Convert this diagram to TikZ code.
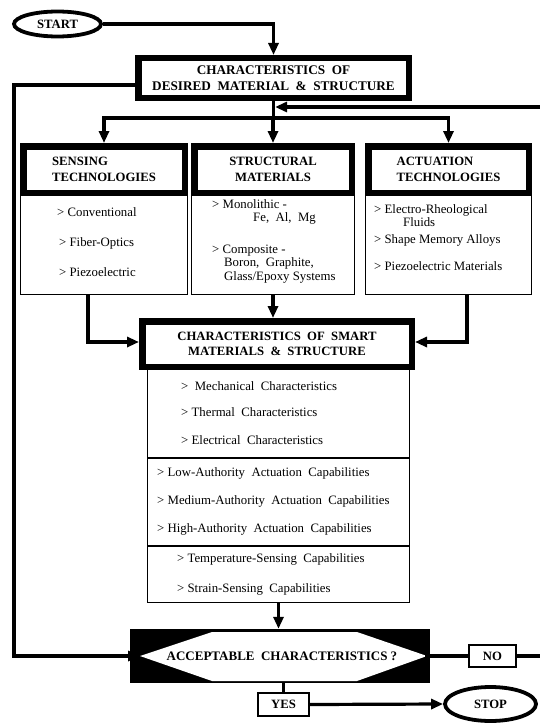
\documentclass[tikz,border=0pt]{standalone}
\usepackage{fontspec}
\setmainfont{Liberation Serif}
\usetikzlibrary{arrows.meta,shapes.geometric,calc}
\begin{document}
\begin{tikzpicture}[x=1pt,y=-1pt,
 hdr/.style={draw, line width=6.5pt, inner sep=0pt, font=\fontsize{12.7}{15.5}\selectfont\bfseries},
 bodybox/.style={draw, line width=1.3pt, inner sep=0pt},
 item/.style={anchor=base west, inner sep=0pt, font=\fontsize{12.8}{14}\selectfont},
 conn/.style={line width=3.2pt, -{Triangle[length=12pt,width=10pt]}},
 plain/.style={line width=3.2pt, line cap=rect},
 term/.style={draw, ellipse, line width=3.8pt, inner sep=0pt, font=\fontsize{12.7}{14}\selectfont\bfseries},
 small/.style={draw, line width=1.8pt, inner sep=0pt, font=\fontsize{12.7}{14}\selectfont\bfseries}
]
\useasboundingbox (0,0) rectangle (540,725);

% START
\node[term, minimum width=87, minimum height=25] (start) at (57.5,24) {START};

% desired
\node[hdr, minimum width=270.5, minimum height=39.5, align=center, font=\fontsize{13.2}{15.5}\selectfont\bfseries] (desired) at (273.5,78)
  {CHARACTERISTICS\ \ OF\\DESIRED\ \ MATERIAL\ \ \&\ \ STRUCTURE};

% three boxes: bodies
\node[bodybox, minimum width=166.7, minimum height=100.7] (b1) at (104,244) {};
\node[bodybox, minimum width=162.7, minimum height=100.7] (b2) at (273,244) {};
\node[bodybox, minimum width=165.7, minimum height=100.7] (b3) at (448.5,244) {};
% headers
\node[hdr, minimum width=161.5, minimum height=46.5, align=left] (h1) at (104,169.5) {SENSING\\TECHNOLOGIES};
\node[hdr, minimum width=157.5, minimum height=46.5, align=center] (h2) at (273,169.5) {STRUCTURAL\\MATERIALS};
\node[hdr, minimum width=160.5, minimum height=46.5, align=left] (h3) at (448.5,169.5) {ACTUATION\\TECHNOLOGIES};

% box1 items
\node[item] (s1) at (57,216.5) {> Conventional};
\node[item] (s2) at (59,246.5) {> Fiber-Optics};
\node[item] (s3) at (59,276.5) {> Piezoelectric};
% box2 items
\node[item] (m1) at (212,208.5) {> Monolithic -};
\node[item] (m2) at (253,221.5) {Fe,\ \ Al,\ \ Mg};
\node[item] (m3) at (212,253.5) {> Composite -};
\node[item] (m4) at (224,266.5) {Boron,\ \ Graphite,};
\node[item] (m5) at (224,280.5) {Glass/Epoxy Systems};
% box3 items
\node[item] (a1) at (374,213.5) {> Electro-Rheological};
\node[item] (a2) at (403,226.5) {Fluids};
\node[item] (a3) at (374,243.5) {> Shape Memory Alloys};
\node[item] (a4) at (374,270.5) {> Piezoelectric Materials};

% smart box
\node[bodybox, minimum width=261.7, minimum height=88.7] (sec1) at (278.5,413) {};
\node[bodybox, minimum width=261.7, minimum height=86.7] (sec2) at (278.5,502) {};
\node[bodybox, minimum width=261.7, minimum height=55.7] (sec3) at (278.5,574.5) {};
\node[hdr, minimum width=269.5, minimum height=45.5, align=center] (smart) at (277,344)
  {CHARACTERISTICS\ \ OF\ \ SMART\\MATERIALS\ \ \&\ \ STRUCTURE};

\node[item] (c1) at (181,390.5) {>\ \ Mechanical\ \ Characteristics};
\node[item] (c2) at (181,416.5) {> Thermal\ \ Characteristics};
\node[item] (c3) at (181,444.5) {> Electrical\ \ Characteristics};
\node[item] (c4) at (157,476.5) {> Low-Authority\ \ Actuation\ \ Capabilities};
\node[item] (c5) at (157,504.5) {> Medium-Authority\ \ Actuation\ \ Capabilities};
\node[item] (c6) at (157,532.5) {> High-Authority\ \ Actuation\ \ Capabilities};
\node[item] (c7) at (177,562.5) {> Temperature-Sensing\ \ Capabilities};
\node[item] (c8) at (177,592.5) {> Strain-Sensing\ \ Capabilities};

% decision
\node[fill=black, inner sep=0pt, minimum width=300, minimum height=54] (decision) at (280,656) {};
\coordinate (hexL) at (140,656);
\coordinate (hexR) at (427,656);
\fill[white] (hexL) -- (212,632) -- (357,632) -- (hexR) -- (357,681) -- (212,681) -- cycle;
\node[inner sep=0pt, font=\fontsize{13}{14}\selectfont\bfseries] (dectext) at (282,656) {ACCEPTABLE\ \ CHARACTERISTICS\ ?};

% NO / YES / STOP
\node[small, minimum width=47.2, minimum height=22.2] (no) at (492.5,656) {NO};
\node[small, minimum width=51.2, minimum height=23.2] (yes) at (283.5,704.5) {YES};
\node[term, minimum width=91, minimum height=34] (stop) at (490.5,704) {STOP};

% connectors
\draw[conn] (start.east) -| (desired.north);
\coordinate (br) at (0,118);
\draw[plain] (desired.south) -- (desired.south |- br);
\draw[plain] (h1.north |- br) -- (h3.north |- br);
\draw[conn] (h1.north |- br) -- (h1.north);
\draw[conn] (h2.north |- br) -- (h2.north);
\draw[conn] (h3.north |- br) -- (h3.north);

\coordinate (fbL) at (14,85);
\draw[conn] (desired.west |- fbL) -- (fbL) |- (hexL);

\coordinate (fbR) at (548,107);
\draw[plain] (hexR) -- (no.west);
\draw[conn, shorten >=1.6pt] (no.east) -| (fbR) -- (desired.south |- fbR);

\coordinate (midy) at (0,342);
\draw[conn] ($(b1.south)+(-16,0)$) |- (smart.west |- midy);
\draw[conn] ($(b3.south)+(18.5,0)$) |- (smart.east |- midy);
\draw[conn] (b2.south) -- (b2.south |- smart.north);

\draw[conn] (sec3.south) -- (sec3.south |- decision.north);
\draw[plain] (decision.south -| yes.north) -- (yes.north);
\draw[conn] (yes.east) -- (stop.west);
\end{tikzpicture}
\end{document}
